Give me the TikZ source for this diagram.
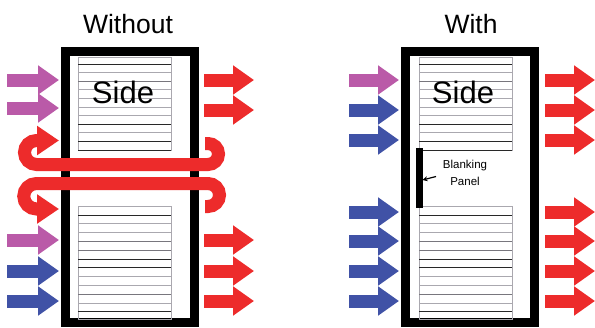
\documentclass[tikz,border=0pt]{standalone}
\usepackage{fontspec}
\setmainfont{Liberation Sans}
\usetikzlibrary{arrows.meta}
\definecolor{apurple}{RGB}{186,90,168}
\definecolor{ablue}{RGB}{64,82,166}
\definecolor{ared}{RGB}{237,43,43}
\definecolor{lg}{RGB}{170,168,175}
\definecolor{md}{RGB}{120,118,125}
\definecolor{dk}{RGB}{40,40,40}
\begin{document}
\begin{tikzpicture}[x=1pt,y=-1pt,
  blk/.style={line width=13pt,-{Triangle[width=28pt,length=21pt]}},
  loop/.style={ared,line width=13pt,-{Triangle[width=28pt,length=22pt]}},
  rack/.style={draw=black,line width=9pt,fill=white},
  srv/.style={draw=lg,line width=0.8pt},
  title/.style={font=\fontsize{26.5}{30}\selectfont},
  sidelbl/.style={font=\fontsize{31}{34}\selectfont}]
\useasboundingbox (0,0) rectangle (595,327);
\fill[white] (0,0) rectangle (595,327);
% racks
\draw[rack] (65.5,51.5) rectangle (194.5,322.5);
\draw[rack] (405.5,51.5) rectangle (534.5,322.5);
% servers
\foreach \xo in {78,419} {
  \draw[srv] (\xo,57) rectangle (\xo+93,150);
  \foreach \yy/\cc in {64/dk,72.6/lg,81.2/md,89.8/lg,98.4/lg,107/lg,115.6/lg,124.2/dk,132.8/lg,141.4/dk,150/dk}
    \draw[line width=0.9pt,\cc] (\xo,\yy) -- (\xo+93,\yy);
  \draw[srv] (\xo,206) rectangle (\xo+93,319);
  \foreach \yy/\cc in {215/dk,223.8/lg,232.6/lg,241.4/md,250.2/md,259/dk,267.8/dk,276.6/lg,285.4/lg,294.2/md,303/lg,311.8/dk}
    \draw[line width=0.9pt,\cc] (\xo,\yy) -- (\xo+93,\yy);
}
\draw[srv] (419,150) -- (419,206);
% blanking panel
\node[fill=black,inner sep=0pt,minimum width=6.5pt,minimum height=60pt] (bar) at (419.25,178) {};
\node[font=\fontsize{11.5}{16.5}\selectfont,align=center] (blank) at (465,173) {Blanking\\Panel};
\coordinate (ptail) at (436,176.5);
\coordinate (phead) at (422.5,180);
\draw[line width=1.2pt,-{Stealth[length=5pt,width=5pt]}] (ptail) -- (phead);
% titles
\node[title] (t1) at (128,24) {Without};
\node[title] (t2) at (471,24) {With};
\node[sidelbl] (s1) at (123,92) {Side};
\node[sidelbl] (s2) at (463,92) {Side};
% left rack arrows
\foreach \y in {80,108,240} \draw[blk,apurple] (7,\y) -- (59,\y);
\foreach \y in {271,301} \draw[blk,ablue] (7,\y) -- (59,\y);
\foreach \y in {80,110,240,271,301} \draw[blk,ared] (204,\y) -- (254,\y);
% right rack arrows
\draw[blk,apurple] (349,80) -- (399,80);
\foreach \y in {110,140,212,241,271,301} \draw[blk,ablue] (349,\y) -- (399,\y);
\foreach \y in {80,110,140,212,241,271,301} \draw[blk,ared] (545,\y) -- (595,\y);
% recirculation loops
\draw[loop] (205,143.5) -- (208,143.5)
  .. controls (213.8,143.5) and (218.5,148.2) .. (218.5,154)
  .. controls (218.5,159.8) and (213.8,164.5) .. (208,164.5)
  -- (36.5,164.5)
  .. controls (29.87,164.5) and (24.5,159.13) .. (24.5,152.5)
  .. controls (24.5,145.87) and (29.87,140.5) .. (36.5,140.5)
  -- (59,140.5);
\draw[loop] (205,206.5) -- (208,206.5)
  .. controls (214.35,206.5) and (219.5,201.35) .. (219.5,195)
  .. controls (219.5,188.65) and (214.35,183.5) .. (208,183.5)
  -- (36.5,183.5)
  .. controls (29.46,183.5) and (23.75,189.21) .. (23.75,196.25)
  .. controls (23.75,203.29) and (29.46,209) .. (36.5,209)
  -- (59,209);
\end{tikzpicture}
\end{document}
